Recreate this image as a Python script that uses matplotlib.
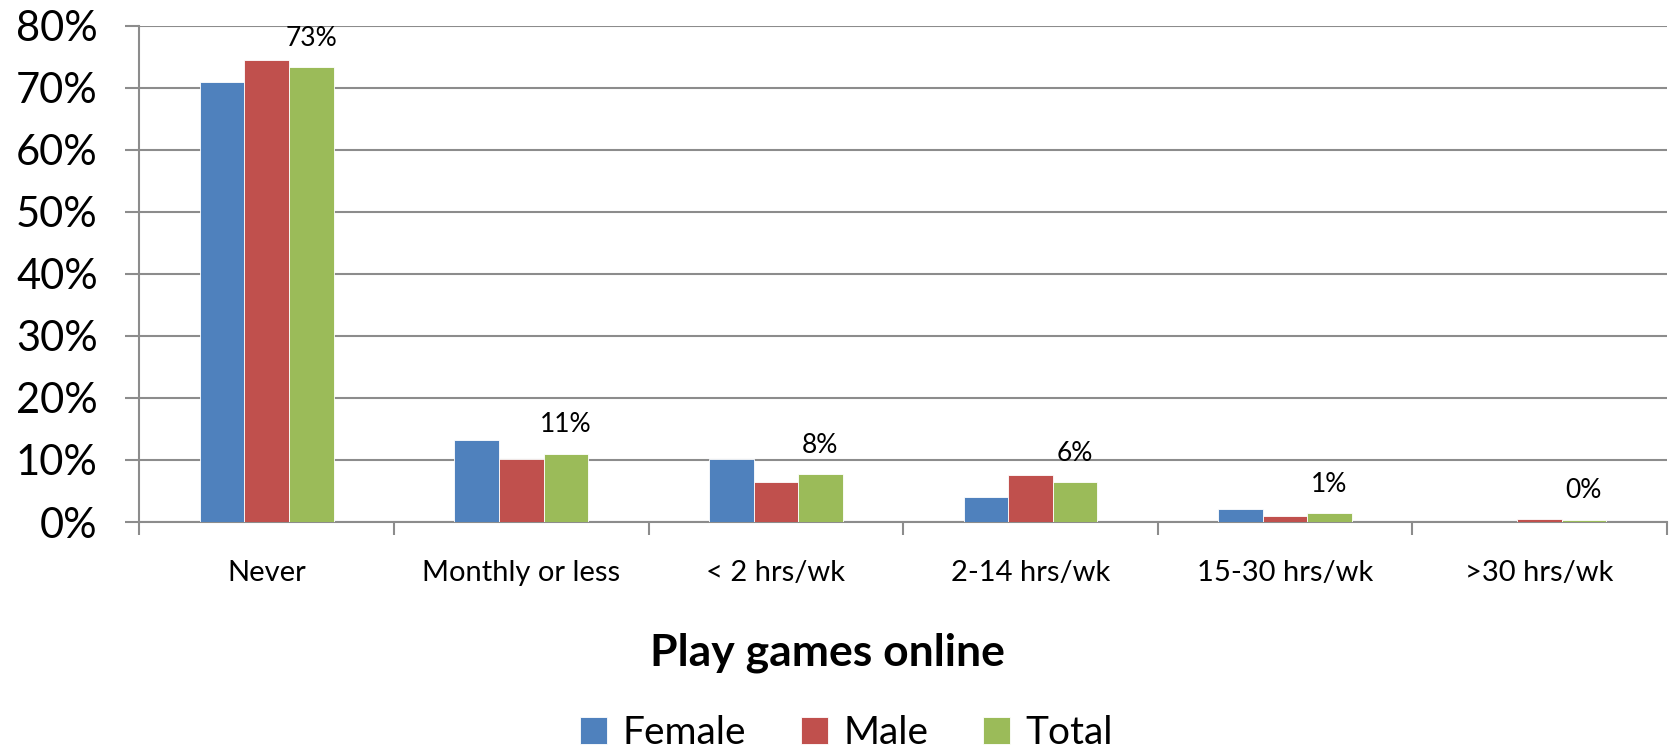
import matplotlib as mpl
mpl.use('Agg')
import matplotlib.pyplot as plt
import numpy as np

# data
categories = ['Never', 'Monthly or less', '< 2 hrs/wk', '2-14 hrs/wk', '15-30 hrs/wk', '>30 hrs/wk']
female = [0.709, 0.132, 0.101, 0.041, 0.021, 0.0]
male = [0.745, 0.101, 0.065, 0.076, 0.010, 0.005]
total = [0.733, 0.110, 0.077, 0.064, 0.014, 0.003]
total_labels = ['73%', '11%', '8%', '6%', '1%', '0%']
series = ['Female', 'Male', 'Total']
colors = ['#4F81BD', '#C0504D', '#9BBB59']

plt.rcParams['font.family'] = ['Lato', 'DejaVu Sans']

fig = plt.figure(figsize=(16.7, 7.56), dpi=100)
ax = fig.add_axes([0.0835, 0.3095, 0.9145, 0.6565])

x = np.arange(len(categories))
w = 0.175
for i, (vals, name, c) in enumerate(zip([female, male, total], series, colors)):
    ax.bar(x + (i - 1) * w, vals, w, color=c, label=name, edgecolor='white', linewidth=0.6, zorder=3)

for xi, v, lab in zip(x, total, total_labels):
    ax.annotate(lab, (xi + w, v), xytext=(0, 12), textcoords='offset points',
                ha='center', va='bottom', fontsize=19, color='black')

ax.set_xlim(-0.5, len(categories) - 0.5)
ax.set_ylim(0, 0.8)
ax.set_yticks(np.arange(0, 0.81, 0.1))
ax.set_yticklabels([f'{int(round(t * 100))}%' for t in np.arange(0, 0.81, 0.1)], fontsize=30)
ax.yaxis.grid(True, color='#8c8c8c', linewidth=1.5, zorder=0)
ax.tick_params(axis='y', length=10, width=1.5, color='#8c8c8c', pad=20)

ax.set_xticks(x)
ax.set_xticklabels(categories, fontsize=21)
ax.tick_params(axis='x', which='major', length=0, pad=27)
ax.set_xticks(np.arange(-0.5, len(categories), 1.0), minor=True)
ax.tick_params(axis='x', which='minor', length=9, width=1.5, color='#8c8c8c')

for s in ['top', 'right']:
    ax.spines[s].set_visible(False)
for s in ['left', 'bottom']:
    ax.spines[s].set_color('#8c8c8c')
    ax.spines[s].set_linewidth(1.5)

fig.text(0.4955, 0.137, 'Play games online', ha='center', va='center', fontsize=32, fontweight='bold')
fig.legend(loc='center', bbox_to_anchor=(0.507, 0.03), ncol=3, frameon=False, fontsize=28,
           handlelength=0.7, handleheight=0.7, handletextpad=0.4, columnspacing=1.4)

fig.savefig('out.png', dpi=100)
